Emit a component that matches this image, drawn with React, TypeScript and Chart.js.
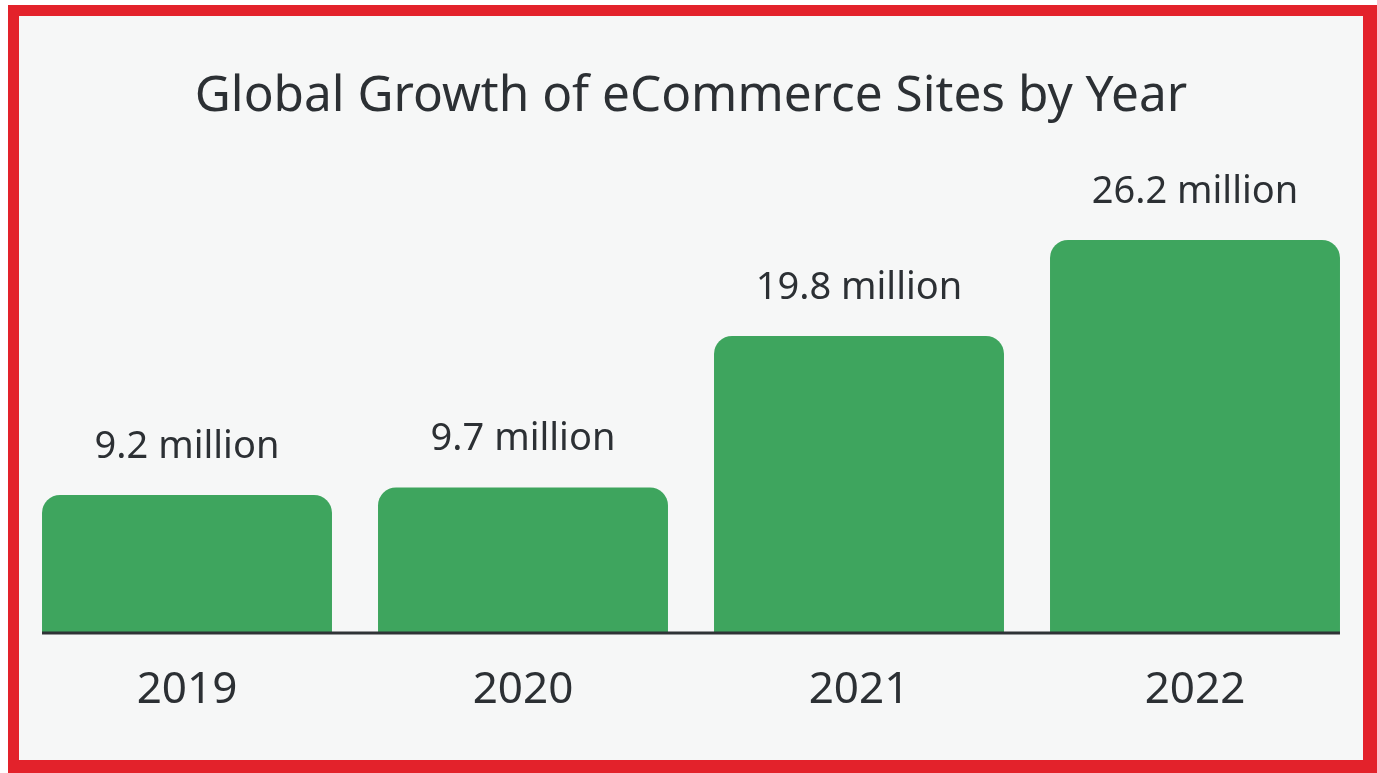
import React, { useEffect, useRef } from "react";
import { Chart, registerables } from "chart.js";

Chart.register(...registerables);

const TITLE = "Global Growth of eCommerce Sites by Year";
const years = ["2019", "2020", "2021", "2022"];
const sites = [9.2, 9.7, 19.8, 26.2];
const valueLabels = ["9.2 million", "9.7 million", "19.8 million", "26.2 million"];

const TEXT = "#2c3034";
const GREEN = "#3ea55e";
const FONT = "'Noto Sans', 'DejaVu Sans', sans-serif";

const valueLabelPlugin = {
  id: "valueLabels",
  afterDatasetsDraw(chart: any) {
    const ctx = chart.ctx;
    const meta = chart.getDatasetMeta(0);
    const y0 = chart.scales.y.getPixelForValue(0);
    const first = meta.data[0];
    const last = meta.data[meta.data.length - 1];
    ctx.save();
    ctx.strokeStyle = "#2f3336";
    ctx.lineWidth = 3;
    ctx.beginPath();
    ctx.moveTo(first.x - first.width / 2, y0);
    ctx.lineTo(last.x + last.width / 2, y0);
    ctx.stroke();
    ctx.fillStyle = TEXT;
    ctx.font = `38px ${FONT}`;
    ctx.textAlign = "center";
    ctx.textBaseline = "middle";
    meta.data.forEach((bar: any, i: number) => {
      ctx.fillText(valueLabels[i], bar.x, bar.y - 48);
    });
    ctx.restore();
  },
};

export default function App() {
  const canvasRef = useRef<HTMLCanvasElement | null>(null);

  useEffect(() => {
    document.body.style.margin = "0";
    const canvas = canvasRef.current;
    if (!canvas) return;
    const chart = new Chart(canvas, {
      type: "bar",
      data: {
        labels: years,
        datasets: [
          {
            data: sites,
            backgroundColor: GREEN,
            borderRadius: { topLeft: 18, topRight: 18, bottomLeft: 0, bottomRight: 0 },
            borderSkipped: false,
            barPercentage: 0.863,
            categoryPercentage: 1,
          },
        ],
      },
      options: {
        animation: false,
        responsive: true,
        maintainAspectRatio: false,
        layout: { padding: { top: 0, bottom: 12.2, left: 0, right: 0 } },
        plugins: {
          legend: { display: false },
          tooltip: { enabled: false },
          title: {
            display: true,
            text: TITLE,
            color: TEXT,
            font: { family: FONT, size: 49.5, weight: "normal", lineHeight: 1.2 },
            padding: { top: 51.3, bottom: 56.3 },
          },
        },
        scales: {
          x: {
            grid: { display: false, drawTicks: false },
            border: { display: false },
            ticks: {
              color: TEXT,
              font: { family: FONT, size: 44, lineHeight: 1.2 },
              padding: 31,
            },
          },
          y: {
            display: false,
            min: 0,
            max: 30,
          },
        },
      },
      plugins: [valueLabelPlugin],
    });
    return () => chart.destroy();
  }, []);

  return (
    <div style={{ position: "relative", width: 1377, height: 773, background: "#ffffff" }}>
      <div
        style={{
          position: "absolute",
          left: 8,
          top: 5,
          width: 1369,
          height: 768,
          boxSizing: "border-box",
          borderStyle: "solid",
          borderColor: "#e3222b",
          borderWidth: "11px 14px 13px 11px",
          background: "#f6f7f7",
        }}
      >
        <div style={{ position: "relative", width: 1344, height: 744 }}>
          <canvas ref={canvasRef} />
        </div>
      </div>
    </div>
  );
}
